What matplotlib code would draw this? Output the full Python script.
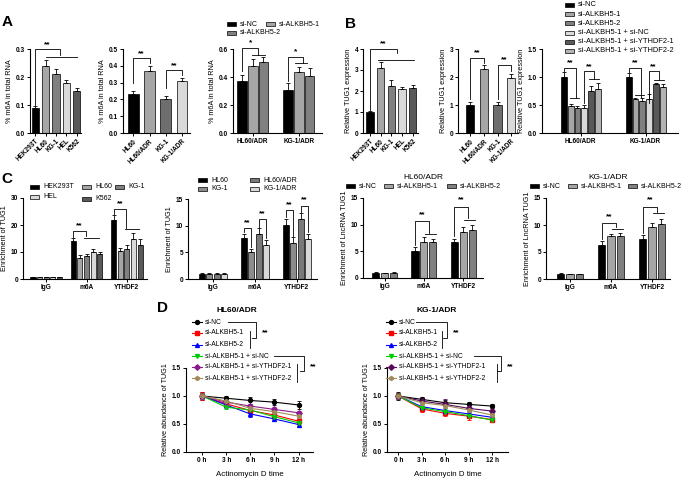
import matplotlib
matplotlib.use('Agg')
import matplotlib.pyplot as plt
from matplotlib.patches import Rectangle
from matplotlib.lines import Line2D
import numpy as np

plt.rcParams['font.family'] = ['Liberation Sans', 'DejaVu Sans']
plt.rcParams['font.weight'] = 'bold'

# ---------------- data ----------------
a1_cells = ['HEK293T', 'HL60', 'KG-1', 'HEL', 'K562']
a1_vals = [0.09, 0.24, 0.21, 0.18, 0.15]
a1_err = [0.005, 0.02, 0.02, 0.01, 0.01]

a2_cells = ['HL60', 'HL60/ADR', 'KG-1', 'KG-1/ADR']
a2_vals = [0.23, 0.37, 0.20, 0.31]
a2_err = [0.02, 0.03, 0.02, 0.02]

adr_groups = ['HL60/ADR', 'KG-1/ADR']
si3 = ['si-NC', 'si-ALKBH5-1', 'si-ALKBH5-2']
a3_vals = [[0.375, 0.31], [0.48, 0.435], [0.505, 0.405]]
a3_err = [[0.04, 0.045], [0.05, 0.04], [0.04, 0.057]]

b1_vals = [1.0, 3.1, 2.25, 2.1, 2.15]
b1_err = [0.05, 0.28, 0.28, 0.08, 0.15]

b2_vals = [1.0, 2.3, 1.0, 1.96]
b2_err = [0.12, 0.14, 0.12, 0.16]

si6 = ['si-NC', 'si-ALKBH5-1', 'si-ALKBH5-2', 'si-ALKBH5-1 + si-NC',
       'si-ALKBH5-1 + si-YTHDF2-1', 'si-ALKBH5-1 + si-YTHDF2-2']
b3_vals = [[1.0, 1.0], [0.48, 0.6], [0.44, 0.57], [0.45, 0.6], [0.75, 0.87], [0.78, 0.83]]
b3_err = [[0.09, 0.07], [0.04, 0.03], [0.04, 0.05], [0.05, 0.1], [0.09, 0.03], [0.12, 0.05]]

ip = ['IgG', 'm6A', 'YTHDF2']
c1_cells = ['HEK293T', 'HL60', 'KG-1', 'HEL', 'K562']
c1_vals = [[0.8, 14, 22], [0.8, 7.8, 10.3], [0.8, 8.5, 11], [0.8, 10, 15], [0.8, 9.2, 12.5]]
c1_err = [[0.1, 1.3, 1.8], [0.1, 1.2, 1.0], [0.1, 0.7, 1.6], [0.1, 1.2, 2.0], [0.1, 0.7, 2.2]]

c2_cells = ['HL60', 'KG-1', 'HL60/ADR', 'KG-1/ADR']
c2_vals = [[1.0, 7.6, 10.1], [1.0, 5.1, 6.8], [1.0, 8.5, 11.2], [1.0, 6.3, 7.5]]
c2_err = [[0.1, 0.9, 1.2], [0.1, 0.6, 1.0], [0.1, 1.0, 1.1], [0.1, 1.1, 1.0]]

c3_vals = [[1.0, 5.0, 6.8], [0.9, 6.8, 8.7], [1.0, 6.7, 9.0]]
c3_err = [[0.1, 0.8, 0.6], [0.1, 0.8, 0.9], [0.1, 0.7, 1.0]]

c4_vals = [[1.0, 6.3, 7.5], [0.9, 7.9, 9.6], [0.9, 8.0, 10.2]]
c4_err = [[0.15, 0.8, 0.6], [0.1, 0.4, 0.8], [0.1, 0.6, 0.9]]

d_times = ['0 h', '3 h', '6 h', '9 h', '12 h']
d1_vals = [[1.0, 0.96, 0.92, 0.89, 0.84],
           [1.0, 0.86, 0.74, 0.66, 0.55],
           [1.0, 0.84, 0.68, 0.59, 0.49],
           [1.0, 0.80, 0.75, 0.63, 0.52],
           [1.0, 0.89, 0.82, 0.76, 0.70],
           [1.0, 0.91, 0.78, 0.72, 0.64]]
d1_err = [[0.08, 0.04, 0.07, 0.05, 0.07],
          [0.08, 0.05, 0.05, 0.05, 0.05],
          [0.06, 0.05, 0.06, 0.03, 0.05],
          [0.06, 0.04, 0.04, 0.04, 0.04],
          [0.06, 0.04, 0.04, 0.04, 0.04],
          [0.06, 0.04, 0.04, 0.04, 0.04]]
d2_vals = [[1.0, 0.94, 0.88, 0.85, 0.82],
           [1.0, 0.77, 0.69, 0.64, 0.58],
           [1.0, 0.81, 0.74, 0.68, 0.62],
           [1.0, 0.79, 0.72, 0.65, 0.57],
           [1.0, 0.91, 0.85, 0.78, 0.73],
           [1.0, 0.88, 0.83, 0.75, 0.66]]
d2_err = [[0.07, 0.05, 0.05, 0.04, 0.04],
          [0.06, 0.05, 0.05, 0.06, 0.05],
          [0.06, 0.04, 0.04, 0.04, 0.04],
          [0.06, 0.04, 0.04, 0.04, 0.04],
          [0.06, 0.04, 0.10, 0.05, 0.04],
          [0.06, 0.04, 0.04, 0.04, 0.04]]

d_colors = ['#000000', '#ff0000', '#0000ff', '#00cc00', '#8b1a8b', '#a08c5a']
d2_colors = ['#000000', '#ff0000', '#0000ff', '#00cc00', '#5a0a5a', '#a08c5a']
d_markers = ['o', 's', '^', 'v', 'D', 'h']

col5 = ['#000000', '#a6a6a6', '#808080', '#d9d9d9', '#595959']
col4 = ['#000000', '#a6a6a6', '#6e6e6e', '#d9d9d9']
col3 = ['#000000', '#a6a6a6', '#808080']
col6 = ['#000000', '#a6a6a6', '#808080', '#d9d9d9', '#595959', '#b3b3b3']
colc2 = ['#000000', '#8c8c8c', '#7a7a7a', '#d9d9d9']

# ---------------- helpers ----------------
W, H = 686, 479
fig = plt.figure(figsize=(W / 100, H / 100), dpi=100)


def fx(x):
    return x / W


def fy(y):
    return 1 - y / H


def ax_px(l, t, r, b):
    return fig.add_axes([l / W, 1 - b / H, (r - l) / W, (b - t) / H])


def style(ax, ylim, yticks, ylabel, fmt='{:.1f}'):
    for s in ['top', 'right']:
        ax.spines[s].set_visible(False)
    for s in ['left', 'bottom']:
        ax.spines[s].set_linewidth(0.8)
    ax.set_ylim(*ylim)
    ax.set_yticks(yticks)
    ax.set_yticklabels([fmt.format(t) for t in yticks])
    ax.tick_params(length=2.5, width=0.7, labelsize=4.7, pad=1)
    ax.set_ylabel(ylabel, fontsize=5.2, labelpad=2)


def simple_bars(ax, names, vals, errs, colors, width):
    x = np.arange(len(names))
    ax.bar(x, vals, width, color=colors, edgecolor='black', linewidth=0.5,
           yerr=[np.zeros(len(vals)), errs],
           error_kw=dict(elinewidth=0.6, capsize=1.5, capthick=0.6))
    ax.set_xticks(x)
    ax.set_xticklabels(names, rotation=45, ha='right', rotation_mode='anchor')


def group_bars(ax, groups, vals, errs, colors, stride, width):
    g = np.arange(len(groups))
    n = len(vals)
    for i in range(n):
        ax.bar(g + (i - (n - 1) / 2) * stride, vals[i], width, color=colors[i],
               edgecolor='black', linewidth=0.5,
               yerr=[np.zeros(len(vals[i])), errs[i]],
               error_kw=dict(elinewidth=0.6, capsize=1.2, capthick=0.6))
    ax.set_xticks(g)
    ax.set_xticklabels(groups)


def bracket(ax, x1, x2, y, y1, y2, txt, ty):
    ax.plot([x1, x1, x2, x2], [y1, y, y, y2], color='k', lw=0.6, clip_on=False)
    ax.text((x1 + x2) / 2, ty, txt, ha='center', va='center', fontsize=6)


def hline(ax, x1, x2, y):
    ax.plot([x1, x2], [y, y], color='k', lw=0.6, clip_on=False)


def key(x, y, color, label, size=5.0):
    fig.add_artist(Rectangle((fx(x), fy(y + 2)), 9 / W, 4 / H, facecolor=color,
                             edgecolor='black', linewidth=0.5, transform=fig.transFigure))
    fig.text(fx(x + 13), fy(y), label, fontsize=size, fontweight='normal', va='center')


def line_key(x, y, color, marker, label):
    fig.add_artist(Line2D([fx(x), fx(x + 10)], [fy(y), fy(y)], color=color, lw=0.8,
                          transform=fig.transFigure))
    fig.add_artist(Line2D([fx(x + 5)], [fy(y)], color=color, marker=marker, markersize=2.8,
                          linestyle='none', transform=fig.transFigure))
    fig.text(fx(x + 13), fy(y), label, fontsize=4.9, fontweight='normal', va='center')


def fig_line(xs, ys):
    fig.add_artist(Line2D([fx(v) for v in xs], [fy(v) for v in ys], color='k', lw=0.6,
                          transform=fig.transFigure))


def letter(x, y, s):
    fig.text(fx(x), fy(y), s, fontsize=11, ha='center', va='center')


# ---------------- panel A ----------------
ax = ax_px(30, 49, 81, 133)
simple_bars(ax, a1_cells, a1_vals, a1_err, col5, 0.68)
style(ax, (0, 0.3), [0, 0.1, 0.2, 0.3], '% m6A in total RNA')
ax.set_xlim(-0.5, 4.4)
bracket(ax, 0, 2.4, 0.3, 0.1, 0.28, '**', 0.315)
hline(ax, 1, 4.0, 0.27)

ax = ax_px(123, 49, 190, 133)
simple_bars(ax, a2_cells, a2_vals, a2_err, col4, 0.65)
style(ax, (0, 0.5), [0, 0.1, 0.2, 0.3, 0.4, 0.5], '% m6A in total RNA')
ax.set_xlim(-0.64, 3.5)
bracket(ax, 0, 1, 0.445, 0.3, 0.415, '**', 0.47)
bracket(ax, 2, 3, 0.375, 0.27, 0.345, '**', 0.4)

ax = ax_px(233, 49, 322, 133)
group_bars(ax, adr_groups, a3_vals, a3_err, col3, 0.23, 0.21)
style(ax, (0, 0.6), [0, 0.2, 0.4, 0.6], '% m6A in total RNA')
ax.set_xlim(-0.43, 1.5)
bracket(ax, -0.23, 0.12, 0.605, 0.44, 0.56, '*', 0.645)
hline(ax, -0.02, 0.26, 0.557)
bracket(ax, 1 - 0.23, 1.08, 0.54, 0.37, 0.5, '*', 0.58)
hline(ax, 0.91, 1.17, 0.497)
key(227, 24, col3[0], si3[0])
key(266, 24, col3[1], si3[1])
key(227, 33, col3[2], si3[2])

# ---------------- panel B ----------------
ax = ax_px(363, 49, 418, 133)
simple_bars(ax, a1_cells, b1_vals, b1_err, col5, 0.68)
style(ax, (0, 4), [0, 1, 2, 3, 4], 'Relative TUG1 expression', fmt='{:.0f}')
ax.set_xlim(-0.65, 4.5)
bracket(ax, 0, 2.54, 4.0, 1.1, 3.8, '**', 4.25)
hline(ax, 0.8, 4.1, 3.48)

ax = ax_px(458, 49, 518, 133)
simple_bars(ax, a2_cells, b2_vals, b2_err, col4, 0.62)
style(ax, (0, 3), [0, 1, 2, 3], 'Relative TUG1 expression', fmt='{:.0f}')
ax.set_xlim(-0.9, 3.5)
bracket(ax, 0, 1, 2.67, 1.2, 2.5, '**', 2.85)
bracket(ax, 2, 3, 2.43, 1.2, 2.2, '**', 2.62)

ax = ax_px(542, 49, 678, 133)
group_bars(ax, adr_groups, b3_vals, b3_err, col6, 0.105, 0.09)
style(ax, (0, 1.5), [0, 0.5, 1.0, 1.5], 'Relative TUG1 expression')
ax.set_xlim(-0.6, 1.5)
for g in range(2):
    top = b3_vals[0][g] + b3_err[0][g]
    bracket(ax, g - 0.26, g - 0.07, 1.16, top + 0.02, 0.62, '**', 1.25)
    hline(ax, g - 0.17, g - 0.03, 0.62 if g == 0 else 0.68)
    bracket(ax, g + 0.05, g + 0.2, 1.1, 0.53, 0.97 if g == 0 else 0.95, '**', 1.18)
    hline(ax, g + 0.13, g + 0.28, 0.96 if g == 0 else 0.94)
for i, (c, s) in enumerate(zip(col6, si6)):
    key(565, 5 + i * 9.2, c, s, size=5.4)

# ---------------- panel C ----------------
ax = ax_px(23, 198, 147, 279)
group_bars(ax, ip, c1_vals, c1_err, col5, 0.165, 0.13)
style(ax, (0, 30), [0, 10, 20, 30], 'Enrichment of TUG1', fmt='{:.0f}')
ax.set_xlim(-0.575, 2.5)
bracket(ax, 1 - 0.33, 1 - 0.02, 17.8, 15.6, 15.8, '**', 19.6)
hline(ax, 0.95, 1.3, 15.3)
bracket(ax, 2 - 0.33, 2 - 0.02, 25.8, 24.2, 18.9, '**', 27.8)
hline(ax, 1.95, 2.3, 18.4)
key(30, 187, col5[0], c1_cells[0])
key(82, 187, col5[1], c1_cells[1])
key(115, 187, col5[2], c1_cells[2])
key(30, 197, col5[3], c1_cells[3])
key(82, 199, col5[4], c1_cells[4])

ax = ax_px(188, 199, 317, 279)
group_bars(ax, ip, c2_vals, c2_err, colc2, 0.18, 0.145)
style(ax, (0, 15), [0, 5, 10, 15], 'Enrichment of TUG1', fmt='{:.0f}')
ax.set_xlim(-0.6, 2.48)
for g in (1, 2):
    tops = [c2_vals[i][g] + c2_err[i][g] for i in range(4)]
    y1 = 9.5 if g == 1 else 12.9
    y2 = 11.2 if g == 1 else 13.7
    bracket(ax, g - 0.27, g - 0.09, y1, tops[0] + 0.3, tops[1] + 0.3, '**', y1 + 1.1)
    bracket(ax, g + 0.09, g + 0.27, y2, tops[2] + 0.3, tops[3] + 0.3, '**', y2 + 1.1)
key(198, 180, colc2[0], c2_cells[0])
key(198, 189, colc2[1], c2_cells[1])
key(250, 180, colc2[2], c2_cells[2])
key(250, 189, colc2[3], c2_cells[3])

ax = ax_px(363, 198, 483, 278)
group_bars(ax, ip, c3_vals, c3_err, col3, 0.23, 0.18)
style(ax, (0, 15), [0, 5, 10, 15], 'Enrichment of LncRNA TUG1', fmt='{:.0f}')
ax.set_xlim(-0.56, 2.51)
ax.set_title('HL60/ADR', fontsize=6, pad=14)
bracket(ax, 1 - 0.23, 1 + 0.12, 10.6, 6.2, 8.5, '**', 11.8)
hline(ax, 1.03, 1.3, 8.2)
bracket(ax, 2 - 0.23, 2 + 0.12, 13.4, 7.8, 11.2, '**', 14.6)
hline(ax, 2.03, 2.3, 10.9)
key(346, 186, col3[0], si3[0])
key(384, 186, col3[1], si3[1])
key(447, 186, col3[2], si3[2])

ax = ax_px(546, 198, 670, 279)
group_bars(ax, ip, c4_vals, c4_err, col3, 0.23, 0.18)
style(ax, (0, 15), [0, 5, 10, 15], 'Enrichment of LncRNA TUG1', fmt='{:.0f}')
ax.set_xlim(-0.59, 2.44)
ax.set_title('KG-1/ADR', fontsize=6, pad=14)
bracket(ax, 1 - 0.23, 1 + 0.12, 10.4, 7.5, 9.6, '**', 11.6)
hline(ax, 1.03, 1.3, 9.3)
bracket(ax, 2 - 0.23, 2 + 0.12, 13.4, 8.5, 12.5, '**', 14.6)
hline(ax, 2.03, 2.3, 12.2)
key(530, 186, col3[0], si3[0])
key(568, 186, col3[1], si3[1])
key(628, 186, col3[2], si3[2])

# ---------------- panel D ----------------
def curves(ax, vals, errs, colors):
    x = np.arange(len(d_times))
    for v, e, c, m in zip(vals, errs, colors, d_markers):
        ax.errorbar(x, v, yerr=e, color=c, marker=m, markersize=2.8, lw=0.8,
                    elinewidth=0.6, capsize=1.5, capthick=0.6)
    ax.set_xticks(x)
    ax.set_xticklabels(d_times)
    ax.set_xlabel('Actinomycin D time', fontsize=5.7, labelpad=5)


ax = ax_px(186, 368, 313, 452)
curves(ax, d1_vals, d1_err, d_colors)
style(ax, (0, 1.5), [0, 0.5, 1.0, 1.5], 'Relative abundance of TUG1')
ax.set_xlim(-0.67, 4.6)
fig.text(fx(237), fy(310), 'HL60/ADR', fontsize=6, ha='center', va='center')

ax = ax_px(387, 368, 508, 452)
curves(ax, d2_vals, d2_err, d2_colors)
style(ax, (0, 1.5), [0, 0.5, 1.0, 1.5], 'Relative abundance of TUG1')
ax.set_xlim(-0.48, 4.68)
fig.text(fx(437), fy(310), 'KG-1/ADR', fontsize=6, ha='center', va='center')

rows = [322, 333, 344.5, 356, 367, 378]
for ox, cols in ((192, d_colors), (386, d2_colors)):
    for i in range(6):
        line_key(ox, rows[i], cols[i], d_markers[i], si6[i])

# significance brackets for D legends
for x0, xb, xg, x1, xb2, xg2 in ((228, 256, 250, 274, 304, 297), (416, 447, 442, 474, 501, 497)):
    fig_line([x0, xb, xb, xb - 4], [322, 322, 338, 338])
    fig_line([xg, xg], [331, 348])
    fig.text(fx(xb + 9), fy(333), '**', fontsize=6, ha='center', va='center')
    fig_line([x1, xb2, xb2, xb2 - 4], [356, 356, 371, 371])
    fig_line([xg2, xg2], [364, 382])
    fig.text(fx(xb2 + 9), fy(367), '**', fontsize=6, ha='center', va='center')

letter(7, 22, 'A')
letter(350, 24, 'B')
letter(7, 179, 'C')
letter(163, 308, 'D')

fig.savefig('out.png', dpi=100)
